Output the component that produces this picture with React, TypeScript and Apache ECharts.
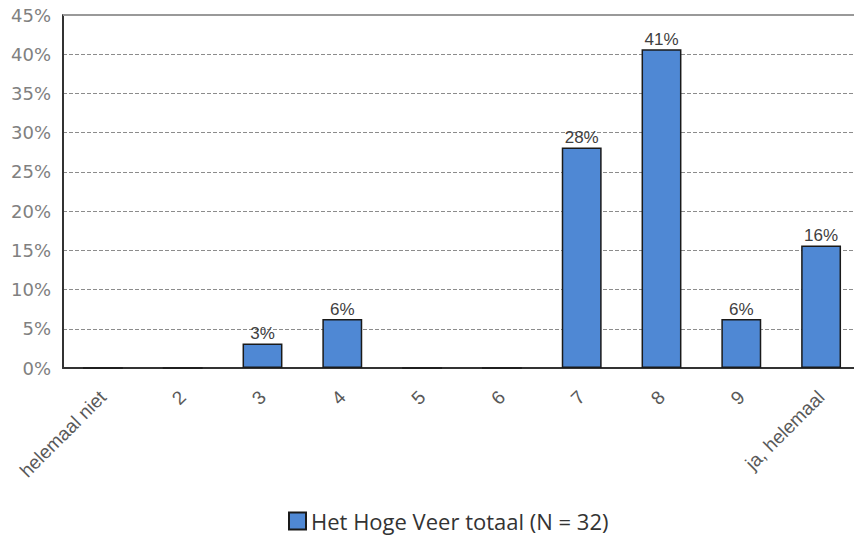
import React, { useEffect, useRef } from "react";
import * as echarts from "echarts";

const categories = ["helemaal niet", "2", "3", "4", "5", "6", "7", "8", "9", "ja, helemaal"];
const shares = [0, 0, 3.125, 6.25, 0, 0, 28.125, 40.625, 6.25, 15.625];
const seriesName = "Het Hoge Veer totaal (N = 32)";

export default function App() {
  const ref = useRef<HTMLDivElement>(null);
  useEffect(() => {
    document.body.style.margin = "0";
    const chart = echarts.init(ref.current!, null, { renderer: "svg" });
    chart.setOption({
      animation: false,
      backgroundColor: "#ffffff",
      // the plot runs a little past the visible right edge
      grid: { left: 63, top: 15, width: 798, height: 353, containLabel: false },
      legend: {
        bottom: 4,
        left: 283,
        itemWidth: 17,
        itemHeight: 17,
        itemGap: 4,
        textStyle: { fontFamily: "Open Sans", fontSize: 22, color: "#333333" },
        data: [{ name: seriesName, icon: "rect" }],
      },
      xAxis: {
        type: "category",
        data: categories,
        axisLine: { lineStyle: { color: "#333333", width: 2 } },
        axisTick: { show: false },
        axisLabel: {
          rotate: 45,
          margin: 26,
          fontFamily: "Liberation Sans",
          fontSize: 19,
          color: "#595959",
          interval: 0,
        },
        splitLine: { show: false },
      },
      yAxis: {
        type: "value",
        min: 0,
        max: 45,
        interval: 5,
        axisLine: { show: true, lineStyle: { color: "#333333", width: 2 } },
        axisTick: { show: false },
        axisLabel: {
          formatter: "{value}%",
          fontFamily: "DejaVu Sans",
          fontSize: 18,
          color: "#808080",
          margin: 12,
        },
        splitLine: { lineStyle: { color: "#8c8c8c", type: [4, 2], width: 1 } },
      },
      graphic: [
        {
          type: "line",
          shape: { x1: 63, y1: 15, x2: 861, y2: 15 },
          style: { stroke: "#999999", lineWidth: 2 },
          z: 10,
        },
      ],
      series: [
        {
          name: seriesName,
          type: "bar",
          data: shares,
          barWidth: "50%",
          itemStyle: { color: "#4f88d4", borderColor: "#1a1a1a", borderWidth: 1.5 },
          label: {
            show: true,
            position: "top",
            distance: 1,
            fontFamily: "Liberation Sans",
            fontSize: 17,
            color: "#404040",
            formatter: (p: any) => (p.value > 0 ? Math.round(p.value) + "%" : ""),
          },
        },
      ],
    });
    return () => chart.dispose();
  }, []);
  return (
    <div style={{ width: 854, height: 541, overflow: "hidden" }}>
      <div ref={ref} style={{ width: 870, height: 541 }} />
    </div>
  );
}
